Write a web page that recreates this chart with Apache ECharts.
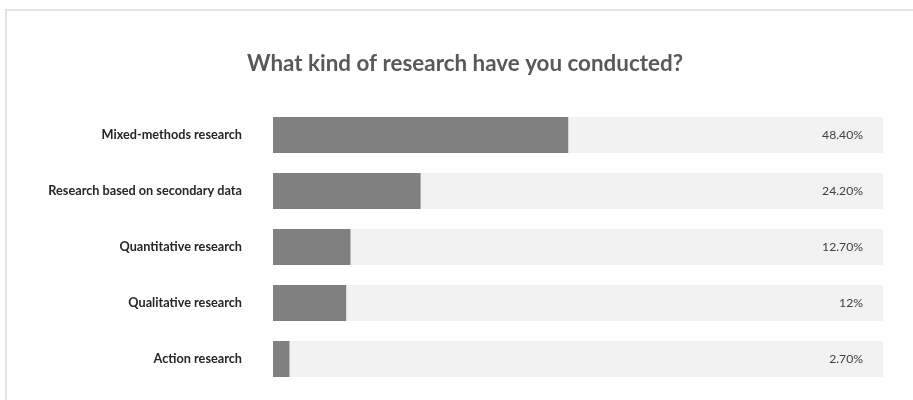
<!DOCTYPE html>
<html>
<head>
<meta charset="utf-8">
<script src="https://cdn.jsdelivr.net/npm/echarts@6/dist/echarts.min.js"></script>
<style>
  html, body { margin: 0; padding: 0; background: #ffffff; }
  #chart { width: 913px; height: 400px; }
</style>
</head>
<body>
<div id="chart"></div>
<script>
// Survey answers, shares in percent
const titleText = 'What kind of research have you conducted?';
const categories = [
  'Mixed-methods research',
  'Research based on secondary data',
  'Quantitative research',
  'Qualitative research',
  'Action research'
];
const values = [48.4, 24.2, 12.7, 12, 2.7];
const valueLabels = ['48.40%', '24.20%', '12.70%', '12%', '2.70%'];
const axisMax = 100;

const FONT = 'Lato, "Open Sans", sans-serif';

const chart = echarts.init(document.getElementById('chart'), null, { renderer: 'canvas' });

chart.setOption({
  animation: false,
  backgroundColor: '#ffffff',
  graphic: [{
    type: 'rect',
    silent: true,
    z: -10,
    shape: { x: 6, y: 10, width: 1000, height: 500 },
    style: { fill: 'none', stroke: '#e2e2e2', lineWidth: 2 }
  }],
  title: {
    text: titleText,
    left: 460,
    top: 48,
    textAlign: 'center',
    textStyle: { fontFamily: FONT, fontWeight: 'bold', fontSize: 22.4, color: '#595959' }
  },
  grid: { left: 273, right: 30, top: 107, bottom: 13, containLabel: false },
  xAxis: {
    type: 'value',
    min: 0,
    max: axisMax,
    show: false
  },
  yAxis: {
    type: 'category',
    data: categories,
    inverse: true,
    axisLine: { show: false },
    axisTick: { show: false },
    splitLine: { show: false },
    axisLabel: {
      margin: 31,
      fontFamily: FONT,
      fontWeight: 'bold',
      fontSize: 12.7,
      color: '#262626'
    }
  },
  series: [
    {
      // full-width track behind each bar, carrying the value label
      type: 'bar',
      data: categories.map(() => axisMax),
      barWidth: 36,
      barGap: '-100%',
      silent: true,
      itemStyle: { color: '#f2f2f2' },
      label: {
        show: true,
        position: 'insideRight',
        distance: 20,
        fontFamily: FONT,
        fontSize: 12.2,
        color: '#404040',
        formatter: (p) => valueLabels[p.dataIndex]
      },
      z: 1
    },
    {
      type: 'bar',
      data: values,
      barWidth: 36,
      barGap: '-100%',
      itemStyle: { color: '#808080' },
      z: 2
    }
  ]
});
</script>
</body>
</html>
